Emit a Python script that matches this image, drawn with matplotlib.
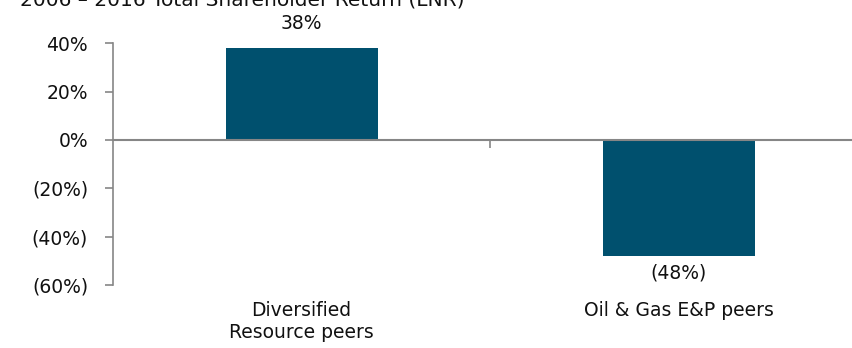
import matplotlib.pyplot as plt

categories = ["Diversified\nResource peers", "Oil & Gas E&P peers"]
returns = [38, -48]
value_labels = ["38%", "(48%)"]
y_ticks = [40, 20, 0, -20, -40, -60]
y_tick_labels = ["40%", "20%", "0%", "(20%)", "(40%)", "(60%)"]
title = "2006 \u2013 2016 Total Shareholder Return (LNR)"

bar_color = "#00506E"
axis_color = "#868686"
font_size = 13.5

fig = plt.figure(figsize=(8.53, 3.48), dpi=100)
ax = fig.add_axes([0.1325, 0.181, 0.884, 0.695])

x = list(range(len(categories)))
ax.bar(x, returns, width=0.403, color=bar_color, zorder=2)

ax.set_xlim(-0.5, len(categories) - 0.5)
ax.set_ylim(-60, 40)

# y axis with accounting style labels
ax.set_yticks(y_ticks)
ax.set_yticklabels(y_tick_labels, fontsize=font_size, color="#111111")
ax.tick_params(axis="y", direction="out", length=6, width=1.2, color=axis_color, pad=12)

# horizontal axis runs through zero, with a divider tick between categories
for side in ["top", "right"]:
    ax.spines[side].set_visible(False)
ax.spines["bottom"].set_position(("data", 0))
ax.spines["bottom"].set_color(axis_color)
ax.spines["bottom"].set_linewidth(1.5)
ax.spines["bottom"].set_zorder(3)
ax.spines["left"].set_color(axis_color)
ax.spines["left"].set_linewidth(1.2)
ax.set_xticks([0.5])
ax.set_xticklabels([""])
ax.tick_params(axis="x", direction="out", length=6, width=1.2, color=axis_color)

# category names below the plot
for xi, name in zip(x, categories):
    ax.text(xi, -0.068, name, transform=ax.get_xaxis_transform(), ha="center", va="top",
            fontsize=font_size, color="#111111", linespacing=1.2)

# value labels above / below the bars
for xi, val, lab in zip(x, returns, value_labels):
    offset = 24 if val >= 0 else -17
    ax.annotate(lab, (xi, val), xytext=(0, offset), textcoords="offset pixels",
                ha="center", va="center", fontsize=font_size, color="#111111",
                annotation_clip=False)

fig.text(20 / 853, 1 - 6 / 348, title, ha="left", va="baseline",
         fontsize=font_size + 1, color="#111111")

fig.savefig("out.png", dpi=100)
